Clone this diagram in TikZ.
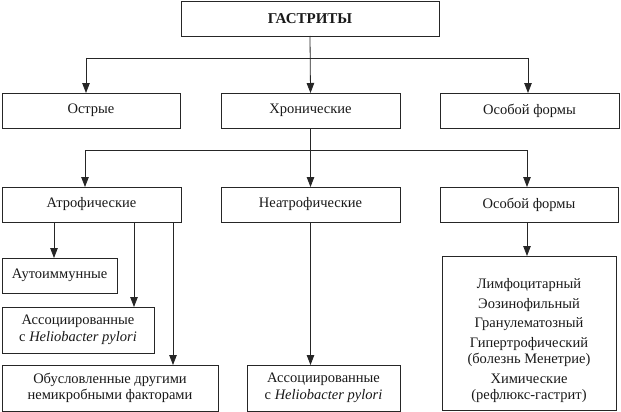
\documentclass[tikz,border=0pt]{standalone}
\usepackage{fontspec}
\setmainfont{Liberation Serif}
\usetikzlibrary{arrows.meta}
\begin{document}
\begin{tikzpicture}[x=1pt,y=-1pt,
 box/.style={draw=black!85, line width=0.9pt, inner sep=0pt, outer sep=0pt, align=center,
   font=\fontsize{14.5}{16.5}\selectfont, text=black!90},
 con/.style={draw=black!85, line width=0.8pt},
 arr/.style={con, -{Triangle[length=10pt,width=7.5pt]}}]
\path[use as bounding box, fill=white] (0,0) rectangle (621,412);
% boxes
\node[box, minimum width=258pt, minimum height=35pt, font=\fontsize{15}{17}\selectfont\bfseries] (top) at (310,18.5) {ГАСТРИТЫ};
\node[box, minimum width=178pt, minimum height=35pt] (acute) at (91,110.5) {Острые};
\node[box, minimum width=179pt, minimum height=35pt] (chron) at (310.5,110.5) {Хронические};
\node[box, minimum width=179pt, minimum height=35pt] (spec1) at (529.5,110.5) {Особой формы};
\node[box, minimum width=179pt, minimum height=35pt] (atr) at (91.5,204.5) {Атрофические};
\node[box, minimum width=179pt, minimum height=35pt] (neatr) at (310.5,204.5) {Неатрофические};
\node[box, minimum width=178pt, minimum height=35pt] (spec2) at (529,204.5) {Особой формы};
\node[box, minimum width=115pt, minimum height=35pt] (auto) at (59.5,275.5) {Аутоиммунные};
\node[box, minimum width=152pt, minimum height=46pt] (assoc1) at (78,330) {Ассоциированные\\с \textit{Heliobacter pylori}};
\node[box, minimum width=216pt, minimum height=46pt] (other) at (110,388) {Обусловленные другими\\немикробными факторами};
\node[box, minimum width=153pt, minimum height=46pt] (assoc2) at (323.5,388) {Ассоциированные\\с \textit{Heliobacter pylori}};
\node[box, minimum width=174pt, minimum height=154pt] (forms) at (529,333)
 {\raisebox{-8pt}[\height][\depth]{\begin{tabular}{@{}c@{}}Лимфоцитарный\\[3pt]Эозинофильный\\[3pt]Гранулематозный\\[3pt]Гипертрофический\\(болезнь Менетрие)\\[3pt]Химические\\(рефлюкс-гастрит)\end{tabular}}};
% bus coordinates
\coordinate (b1L) at (86,58);
\coordinate (b1R) at (528,58);
\coordinate (b2L) at (85,150);
\coordinate (b2R) at (527,150);
% connectors level 1
\draw[arr] (top.south) -- (chron.north);
\draw[con] (b1L) -- (b1R);
\draw[arr] (b1L) -- (b1L |- acute.north);
\draw[arr] (b1R) -- (b1R |- spec1.north);
% level 2
\draw[arr] (chron.south) -- (neatr.north);
\draw[con] (b2L) -- (b2R);
\draw[arr] (b2L) -- (b2L |- atr.north);
\draw[arr] (b2R) -- (b2R |- spec2.north);
% level 3
\draw[arr] ([xshift=52pt]atr.south west) -- ([xshift=52pt]atr.south west |- auto.north);
\draw[arr] ([xshift=132pt]atr.south west) -- ([xshift=132pt]atr.south west |- assoc1.north);
\draw[arr] ([xshift=171pt]atr.south west) -- ([xshift=171pt]atr.south west |- other.north);
\draw[arr] (neatr.south) -- (neatr.south |- assoc2.north);
\draw[arr] ([xshift=87pt]spec2.south west) -- ([xshift=87pt]spec2.south west |- forms.north);
\end{tikzpicture}
\end{document}
